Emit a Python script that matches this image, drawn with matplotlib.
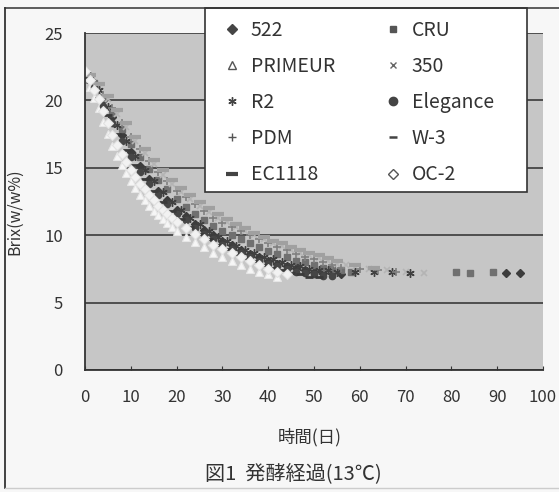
import matplotlib
matplotlib.use("Agg")
import matplotlib.pyplot as plt
from matplotlib.lines import Line2D
from matplotlib.patches import Rectangle

plt.rcParams['font.family'] = ['Noto Sans CJK JP', 'DejaVu Sans']

# ================== DATA ==================
days_522 = list(range(0, 57, 2)) + [92, 95]
brix_522 = [22.0, 21.3, 20.0, 18.8, 17.4, 16.2, 15.1, 14.2, 13.3, 12.6, 11.9, 11.4, 10.8, 10.4, 10.0,
            9.6, 9.3, 8.9, 8.6, 8.4, 8.1, 7.9, 7.7, 7.6, 7.4, 7.3, 7.2, 7.2, 7.1, 7.2, 7.2]

days_cru = list(range(0, 59, 2)) + [81, 84, 89]
brix_cru = [22.1, 21.3, 20.2, 19.1, 17.9, 16.8, 15.8, 14.9, 14.1, 13.4, 12.7, 12.1, 11.6, 11.1, 10.7,
            10.3, 10.0, 9.7, 9.4, 9.1, 8.8, 8.6, 8.4, 8.1, 8.0, 7.8, 7.6, 7.5, 7.4, 7.3, 7.3, 7.2, 7.3]

days_primeur = list(range(0, 21)) + list(range(22, 43, 2))
brix_primeur = [22.0, 21.0, 20.2, 19.4, 18.4, 17.5, 16.6, 15.9, 15.2, 14.6, 14.0, 13.5, 13.0, 12.6, 12.2,
                11.8, 11.5, 11.2, 10.9, 10.6, 10.3, 9.9, 9.5, 9.1, 8.7, 8.4, 8.1, 7.8, 7.5, 7.3, 7.1, 6.9]

days_350 = list(range(1, 60, 2)) + [62, 66, 70, 74]
brix_350 = [21.7, 21.0, 20.1, 19.0, 18.0, 17.0, 16.1, 15.3, 14.5, 13.8, 13.2, 12.7, 12.2, 11.7, 11.3,
            11.0, 10.6, 10.3, 10.0, 9.7, 9.4, 9.2, 8.9, 8.7, 8.5, 8.3, 8.1, 7.9, 7.8, 7.6, 7.5, 7.4, 7.3, 7.2]

days_r2 = list(range(1, 56, 2)) + [59, 63, 67, 71]
brix_r2 = [21.8, 20.8, 19.5, 18.2, 17.0, 15.9, 14.8, 14.0, 13.2, 12.5, 11.9, 11.3, 10.8, 10.3, 9.9,
           9.6, 9.2, 8.9, 8.7, 8.4, 8.2, 8.0, 7.8, 7.7, 7.5, 7.4, 7.4, 7.3, 7.3, 7.3, 7.3, 7.2]

days_elegance = list(range(0, 55, 2))
brix_elegance = [21.9, 21.0, 19.6, 18.3, 17.0, 15.8, 14.7, 13.8, 13.0, 12.3, 11.6, 11.1, 10.5, 10.1,
                 9.7, 9.3, 9.0, 8.7, 8.4, 8.1, 7.9, 7.7, 7.5, 7.3, 7.2, 7.1, 7.0, 7.0]

days_pdm = list(range(0, 57, 2)) + [60, 64, 68]
brix_pdm = [22.0, 21.2, 20.4, 19.4, 18.3, 17.3, 16.4, 15.5, 14.7, 14.0, 13.3, 12.8, 12.3, 11.8, 11.3,
            10.9, 10.6, 10.3, 10.0, 9.7, 9.4, 9.1, 8.9, 8.6, 8.4, 8.2, 8.0, 7.8, 7.6, 7.5, 7.4, 7.3]

days_w3 = list(range(1, 52, 2))
brix_w3 = [21.4, 20.2, 18.9, 17.5, 16.3, 15.2, 14.2, 13.3, 12.5, 11.8, 11.2, 10.6, 10.1, 9.7, 9.3,
           9.0, 8.6, 8.3, 8.1, 7.8, 7.6, 7.4, 7.2, 7.1, 6.9, 6.9]

days_ec1118 = list(range(1, 56, 2)) + [59, 63]
brix_ec1118 = [21.9, 21.2, 20.3, 19.3, 18.3, 17.3, 16.4, 15.6, 14.8, 14.1, 13.5, 13.0, 12.5, 12.0, 11.6,
               11.2, 10.8, 10.5, 10.2, 9.9, 9.6, 9.4, 9.1, 8.9, 8.7, 8.5, 8.3, 8.1, 7.8, 7.6]

days_oc2 = list(range(0, 21)) + list(range(22, 45, 2))
brix_oc2 = [22.2, 21.5, 20.8, 20.1, 19.2, 18.3, 17.4, 16.7, 16.0, 15.4, 14.8, 14.3, 13.8, 13.4, 13.0,
            12.6, 12.2, 11.9, 11.6, 11.3, 11.0, 10.5, 10.1, 9.7, 9.3, 9.0, 8.7, 8.4, 8.1, 7.8, 7.5, 7.3, 7.1]

x_ticks = [0, 10, 20, 30, 40, 50, 60, 70, 80, 90, 100]
y_ticks = [0, 5, 10, 15, 20, 25]

# ================== STYLES ==================
# (label, days, brix, marker, size, face, edge, edge width)
series = [
    ("522", days_522, brix_522, "D", 4.5, "#3c3c3c", "#3c3c3c", 1.0),
    ("CRU", days_cru, brix_cru, "s", 4.5, "#707070", "#707070", 1.0),
    ("PRIMEUR", days_primeur, brix_primeur, "^", 5.5, "#f6f6f6", "#e6e6e6", 0.8),
    ("350", days_350, brix_350, "x", 5.0, "#b4b4b4", "#b4b4b4", 1.2),
    ("R2", days_r2, brix_r2, (6, 2, 0), 6.0, "#404040", "#404040", 1.0),
    ("Elegance", days_elegance, brix_elegance, "o", 4.5, "#464646", "#464646", 1.0),
    ("PDM", days_pdm, brix_pdm, "+", 6.0, "#808080", "#808080", 1.2),
    ("W-3", days_w3, brix_w3, "_", 6.0, "#3a3a3a", "#3a3a3a", 2.0),
    ("EC1118", days_ec1118, brix_ec1118, "_", 8.0, "#a0a0a0", "#a0a0a0", 3.0),
    ("OC-2", days_oc2, brix_oc2, "D", 5.0, "#f2f2f2", "#e2e2e2", 0.8),
]
# legend markers are drawn a bit darker, like in the scan
legend_style = {
    "522": ("D", 5, "#454545", "#454545", 1.0),
    "CRU": ("s", 5, "#555555", "#555555", 1.0),
    "PRIMEUR": ("^", 5.5, "white", "#555555", 1.0),
    "350": ("x", 5, "#666666", "#666666", 1.0),
    "R2": ((6, 2, 0), 6, "#444444", "#444444", 1.0),
    "Elegance": ("o", 6, "#444444", "#444444", 1.0),
    "PDM": ("+", 6, "#555555", "#555555", 1.0),
    "W-3": ("_", 6, "#444444", "#444444", 1.8),
    "EC1118": ("_", 9, "#444444", "#444444", 3.0),
    "OC-2": ("D", 5, "white", "#555555", 1.0),
}

fig = plt.figure(figsize=(5.59, 4.92), dpi=100, facecolor="#f7f7f7")
ax = fig.add_axes([85 / 559, 1 - 370 / 492, 458 / 559, 337 / 492])
ax.set_facecolor("#c6c6c6")

for label, d, b, m, ms, fc, ec, mew in series:
    ax.plot(d, b, linestyle="none", marker=m, markersize=ms, markerfacecolor=fc,
            markeredgecolor=ec, markeredgewidth=mew, label=label)

ax.set_xlim(0, 100)
ax.set_ylim(0, 25)
ax.set_xticks(x_ticks)
ax.set_yticks(y_ticks)
ax.yaxis.grid(True, color="#3a3a3a", linewidth=1.2)
ax.set_axisbelow(True)
for s in ["top", "right"]:
    ax.spines[s].set_visible(False)
ax.spines["left"].set_color("#333333")
ax.spines["bottom"].set_color("#333333")
ax.spines["left"].set_linewidth(1.3)
ax.spines["bottom"].set_linewidth(1.3)
ax.tick_params(axis="x", direction="in", length=3, pad=14, labelsize=12, colors="#333333")
ax.tick_params(axis="y", length=0, pad=16, labelsize=12, colors="#333333")

# legend box (drawn separately so its size matches the original)
box = Rectangle((205 / 559, 1 - 192 / 492), 322 / 559, 184 / 492, transform=fig.transFigure,
                facecolor="white", edgecolor="#333333", linewidth=1.2, clip_on=False, zorder=4)
ax.add_patch(box)

# legend: row-major order like the original (matplotlib fills columns first)
order = ["522", "PRIMEUR", "R2", "PDM", "EC1118", "CRU", "350", "Elegance", "W-3", "OC-2"]
handles = []
for lab in order:
    m, ms, fc, ec, mew = legend_style[lab]
    handles.append(Line2D([], [], linestyle="none", marker=m, markersize=ms,
                          markerfacecolor=fc, markeredgecolor=ec, markeredgewidth=mew))
leg = ax.legend(handles, order, ncol=2, loc="upper left",
                bbox_to_anchor=(205 / 559, 1 - 10 / 492),
                bbox_transform=fig.transFigure, frameon=False,
                borderaxespad=0, fontsize=14,
                labelspacing=0.78, handlelength=1.75, handletextpad=0.1,
                borderpad=0.5, columnspacing=2.1)
for t in leg.get_texts():
    t.set_color("#333333")

fig.text(15 / 559, 1 - 212 / 492, "Brix(w/w%)", rotation=90, ha="center", va="center",
         fontsize=11.5, color="#333333")
fig.text(310 / 559, 1 - 437 / 492, "時間(日)", ha="center", va="center",
         fontsize=12.5, color="#333333")
fig.text(293 / 559, 1 - 474 / 492, "図1  発酵経過(13℃)", ha="center", va="center",
         fontsize=14.5, color="#333333")

# outer frame of the chart area
fig.add_artist(Line2D([5 / 559, 5 / 559], [1 - 8 / 492, 1 - 488 / 492], color="#333333", linewidth=1.3))
fig.add_artist(Line2D([5 / 559, 1.0], [1 - 8 / 492, 1 - 8 / 492], color="#333333", linewidth=1.1))
fig.add_artist(Line2D([5 / 559, 1.0], [1 - 488 / 492, 1 - 488 / 492], color="#cccccc", linewidth=1.0))

fig.savefig("out.png", dpi=100, facecolor=fig.get_facecolor())
